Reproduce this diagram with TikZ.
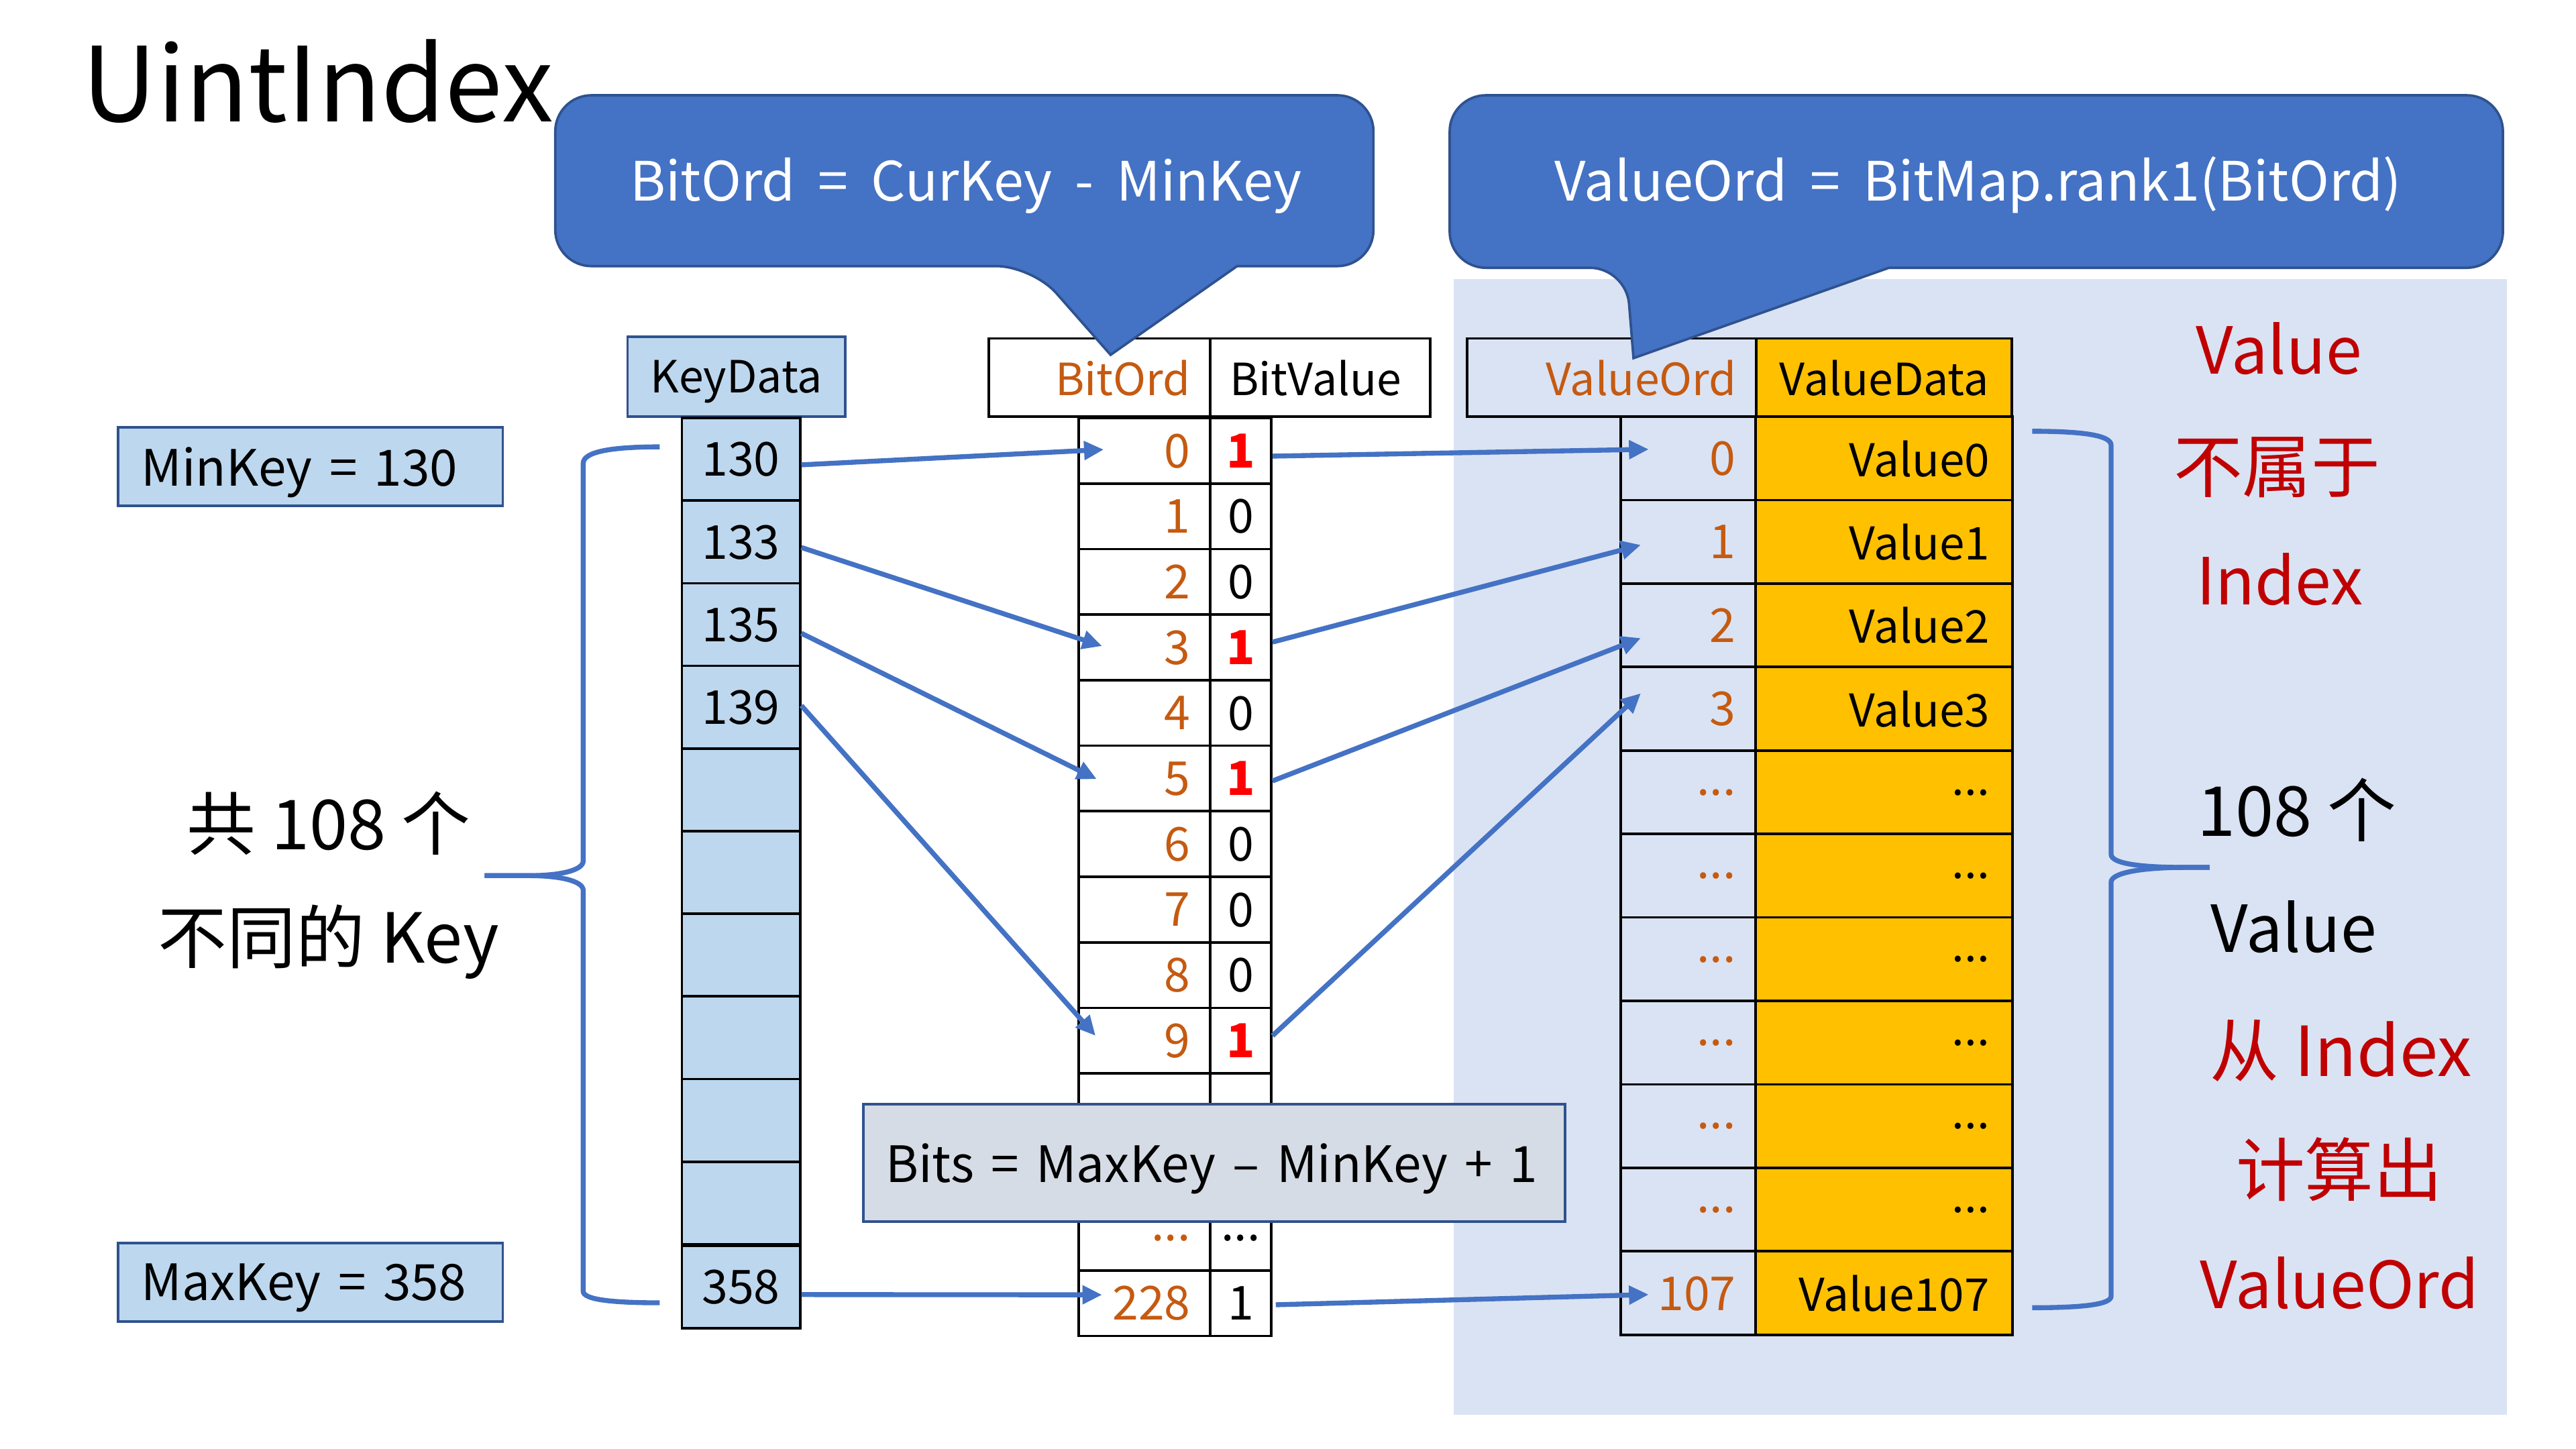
\documentclass[tikz,border=0pt]{standalone}
\usepackage{fontspec}
\setmainfont{Noto Sans CJK SC}
\usetikzlibrary{arrows.meta}
\definecolor{cblue}{HTML}{4472C4}
\definecolor{cdblue}{HTML}{2F528F}
\definecolor{cbg}{HTML}{DAE3F3}
\definecolor{ckey}{HTML}{BDD7EE}
\definecolor{corange}{HTML}{C55A11}
\definecolor{cyellow}{HTML}{FFC000}
\definecolor{cdred}{HTML}{C00000}
\definecolor{cbits}{HTML}{D6DCE5}
\definecolor{cred}{HTML}{FF0000}
\newcommand{\myfs}[1]{\fontsize{#1pt}{#1pt}\selectfont}
\newcommand{\gp}{\hspace{0.42em}}
\newcommand{\gq}{\hspace{0.34em}}
\tikzset{
  kcell/.style={draw=black, line width=1.5pt, fill=ckey, minimum width=72pt, minimum height=50.3pt, inner sep=0pt, text depth=0pt, font=\myfs{28.5}},
  khead/.style={draw=cdblue, line width=1.5pt, fill=ckey, minimum width=132.5pt, minimum height=48.7pt, inner sep=0pt, text depth=0pt, font=\myfs{27}},
  bhead/.style={draw=black, line width=1.5pt, fill=white, minimum height=47.7pt, inner ysep=0pt, inner xsep=12pt, text depth=0pt, font=\myfs{27}},
  bocell/.style={draw=black, line width=1.5pt, fill=white, text width=56pt, inner xsep=12pt, inner ysep=0pt, minimum height=39.9pt, align=right, text depth=0pt, font=\myfs{28.5}, text=corange},
  bvcell/.style={draw=black, line width=1.5pt, fill=white, minimum width=37.2pt, minimum height=39.9pt, inner sep=0pt, text depth=0pt, font=\myfs{28.5}},
  vocell/.style={draw=black, line width=1.5pt, text width=58.1pt, inner xsep=12pt, inner ysep=0pt, minimum height=50.8pt, align=right, text depth=0pt, font=\myfs{28.5}, text=corange},
  vdcell/.style={draw=black, line width=1.5pt, fill=cyellow, text width=128.4pt, inner xsep=14pt, inner ysep=0pt, minimum height=50.8pt, align=right, text depth=0pt, font=\myfs{27.5}},
  mmbox/.style={draw=cdblue, line width=1.5pt, fill=ckey, inner xsep=14pt, inner ysep=0pt, minimum height=48pt, text depth=0pt, font=\myfs{30.5}},
  bitsbox/.style={draw=cdblue, line width=1.5pt, fill=cbits, inner xsep=13.5pt, inner ysep=0pt, minimum height=71.6pt, text depth=0pt, font=\myfs{30.5}},
  callout/.style={fill=cblue, draw=cdblue, line width=1.5pt},
  ctext/.style={anchor=base, inner sep=0pt, text=white, font=\myfs{33}},
  bigtext/.style={inner sep=0pt, font=\myfs{42}},
  lattext/.style={inner sep=0pt, font=\myfs{39.5}},
  arr/.style={draw=cblue, line width=3pt, -{Triangle[length=12pt,width=11pt]}},
  bracepath/.style={draw=cblue, line width=3pt},
}
\begin{document}
\begin{tikzpicture}[x=1pt,y=-1pt]
\useasboundingbox (0,0) rectangle (1568,882);
\fill[white] (0,0) rectangle (1568,882);
% background of value area
\fill[cbg] (885,170) rectangle (1526,861);

% title
\node[anchor=base west, inner sep=0pt, font=\myfs{63}] (title) at (50,74) {UintIndex};

% KeyData column
\node[khead] (kh) at (448.25,229.35) {KeyData};
\node[kcell] (k1) at (451,279.55) {130};
\node[kcell] (k2) at (451,329.85) {133};
\node[kcell] (k3) at (451,380.15) {135};
\node[kcell] (k4) at (451,430.45) {139};
\foreach \i in {5,...,10}{
  \node[kcell] (k\i) at (451,{254.4+50.3*(\i-0.5)}) {};
}
\node[kcell] (k11) at (451,783.35) {358};

% Bit table
\node[bhead, text width=110.6pt, align=right, text=corange] (bh1) at (669.3,229.85) {BitOrd};
\node[bhead, text width=110pt, align=left] (bh2) at (803.6,229.85) {BitValue};
\foreach \j/\v/\b in {0/0/1,1/1/0,2/2/0,3/3/1,4/4/0,5/5/1,6/6/0,7/7/0,8/8/0,9/9/1}{
  \node[bocell] (bo\j) at (696.6,{254.4+39.9*(\j+0.5)}) {\v};
  \ifnum\b=1
    \node[bvcell, text=cred, font=\myfs{28.5}\bfseries] (bv\j) at (755.2,{254.4+39.9*(\j+0.5)}) {1};
  \else
    \node[bvcell] (bv\j) at (755.2,{254.4+39.9*(\j+0.5)}) {0};
  \fi
}
\node[bocell] (bo10) at (696.6,673.5) {};
\node[bvcell] (bv10) at (755.2,673.5) {};
\node[bocell] (bo11) at (696.6,713.4) {};
\node[bvcell] (bv11) at (755.2,713.4) {};
\node[bocell] (bo12) at (696.6,753.3) {...};
\node[bvcell] (bv12) at (755.2,753.3) {...};
\node[bocell] (bo13) at (696.6,793.2) {228};
\node[bvcell] (bv13) at (755.2,793.2) {1};

% Value table
\node[bhead, text width=152.1pt, align=right, text=corange, fill=none] (vh1) at (980.95,229.85) {ValueOrd};
\node[bhead, fill=cyellow, minimum width=155.6pt, inner xsep=0pt] (vh2) at (1146.8,229.85) {ValueData};
\foreach \m in {0,...,3}{
  \node[vocell] (vo\m) at (1027.55,{253.6+50.8*(\m+0.5)}) {\m};
  \node[vdcell] (vd\m) at (1146.8,{253.6+50.8*(\m+0.5)}) {Value\m};
}
\foreach \m in {4,...,9}{
  \node[vocell] (vo\m) at (1027.55,{253.6+50.8*(\m+0.5)}) {...};
  \node[vdcell] (vd\m) at (1146.8,{253.6+50.8*(\m+0.5)}) {...};
}
\node[vocell] (vo10) at (1027.55,787.2) {107};
\node[vdcell] (vd10) at (1146.8,787.2) {Value107};

% Bits box
\node[bitsbox] (bits) at (739,707.8) {\makebox[400pt][l]{Bits\gq=\gq MaxKey\gq–\gq MinKey\gq+\gq 1}};

% callouts
\draw[callout] (587,58) [rounded corners=22pt] -- (338,58) -- (338,162) -- (628.5,162) [sharp corners] -- (676,216) -- (753,162) [rounded corners=22pt] -- (836,162) -- (836,58) -- cycle;
\node[ctext] (c1t) at (588,122.5) {BitOrd\gp=\gp CurKey\gp-\gp MinKey};
\draw[callout] (1200,58) [rounded corners=22pt] -- (882.4,58) -- (882.4,163) -- (989.8,163) [sharp corners] -- (994.3,218) -- (1149.8,163) [rounded corners=22pt] -- (1523.5,163) -- (1523.5,58) -- cycle;
\node[ctext] (c2t) at (1204,122.3) {ValueOrd\gp=\gp BitMap.rank1(BitOrd)};

% MinKey / MaxKey
\node[mmbox] (minkey) at (189,284) {\makebox[206pt][l]{MinKey\gq=\gq 130}};
\node[mmbox] (maxkey) at (189,780.5) {\makebox[206pt][l]{MaxKey\gq=\gq 358}};

% left texts
\node[bigtext, anchor=base] (lt1) at (200,517) {共 108 个};
\node[bigtext, anchor=base] (lt2) at (200,586) {不同的 Key};

% right texts
\node[lattext, anchor=base, text=cdred] (rt1) at (1387,227.5) {Value};
\node[bigtext, text=cdred] (rt2) at (1386,284.5) {不属于};
\node[lattext, anchor=base, text=cdred] (rt3) at (1387.6,368) {Index};
\node[bigtext, anchor=base] (rt4) at (1398,509) {108 个};
\node[lattext, anchor=base] (rt5) at (1396,579.6) {Value};
\node[bigtext, anchor=base, text=cdred] (rt6) at (1425,655) {从 Index};
\node[bigtext, text=cdred] (rt7) at (1424,712) {计算出};
\node[lattext, anchor=base, text=cdred] (rt8) at (1424,796.6) {ValueOrd};

% braces
\draw[bracepath] (401.5,272) .. controls (372,272) and (355,275) .. (355,282) -- (355,524) .. controls (355,530) and (340,533) .. (322,533) -- (295,533);
\draw[bracepath] (295,533) -- (322,533) .. controls (340,533) and (355,536) .. (355,542) -- (355,786) .. controls (355,791) and (372,793) .. (401.5,793);
\draw[bracepath] (1237,262.5) .. controls (1268,262.5) and (1285,265) .. (1285,271) -- (1285,520) .. controls (1285,526) and (1305,528) .. (1330,528) -- (1345,528);
\draw[bracepath] (1345,528) -- (1330,528) .. controls (1305,528) and (1285,531) .. (1285,537) -- (1285,789) .. controls (1285,794) and (1268,796) .. (1237,796);

% arrows key -> bit
\draw[arr] ([yshift=-3.4pt]k1.east) -- ([xshift=16pt,yshift=0.7pt]bo0.west);
\draw[arr] ([yshift=-3.4pt]k2.east) -- ([xshift=15pt,yshift=0.8pt]bo3.west);
\draw[arr] ([yshift=-5.3pt]k3.east) -- ([xshift=11.7pt,yshift=-0.4pt]bo5.west);
\draw[arr] ([yshift=1pt]k4.east) -- ([xshift=11pt,yshift=3pt]bo9.west);
\draw[arr] ([yshift=-4.65pt]k11.east) -- ([xshift=15pt,yshift=5.05pt]bo13.west);
% arrows bit -> value
\draw[arr] ([yshift=-3.3pt]bv0.east) -- ([xshift=17.8pt,yshift=5.5pt]vo0.west);
\draw[arr] ([yshift=3.2pt]bv3.east) -- ([xshift=13pt,yshift=-1.9pt]vo1.west);
\draw[arr] ([yshift=-1.5pt]bv5.east) -- ([xshift=13pt,yshift=-7.8pt]vo2.west);
\draw[arr] ([yshift=3pt]bv9.east) -- ([xshift=13pt,yshift=9.4pt]vo3.west);
\draw[arr] ([xshift=2pt,yshift=-1pt]bv13.east) -- ([xshift=17.8pt,yshift=-0.8pt]vo10.west);
\end{tikzpicture}
\end{document}
